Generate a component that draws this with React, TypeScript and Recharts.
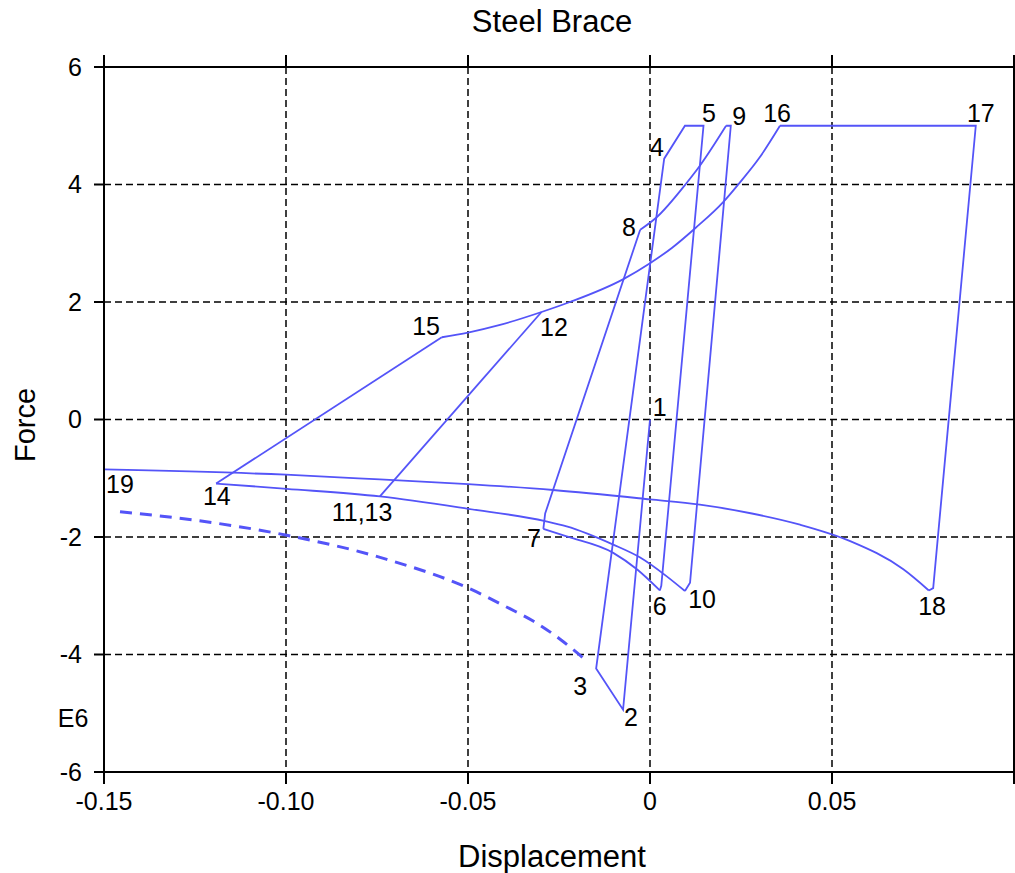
import {
  CartesianGrid,
  ComposedChart,
  Line,
  Scatter,
  XAxis,
  YAxis
} from "recharts";

// hysteresis path (displacement, force in E6)
const firstCycle = [
  { x: 0, y: 0 },
  { x: -0.0074, y: -4.94 },
  { x: -0.0148, y: -4.24 },
  { x: 0.0039, y: 4.44 },
  { x: 0.0096, y: 5 },
  { x: 0.0147, y: 5 },
  { x: 0.0031, y: -2.83 },
  { x: 0.0027, y: -2.91 }
];
const buckle6to7 = [
  { x: -0.0293, y: -1.86 },
  { x: -0.0229, y: -1.99 },
  { x: -0.0101, y: -2.27 },
  { x: -0.0036, y: -2.55 },
  { x: 0.0027, y: -2.91 }
];
const reload7to8 = [
  { x: -0.0293, y: -1.86 },
  { x: -0.0288, y: -1.6 },
  { x: -0.0027, y: 3.23 }
];
const harden8to9 = [
  { x: -0.0027, y: 3.23 },
  { x: 0.0016, y: 3.43 },
  { x: 0.0101, y: 4.03 },
  { x: 0.0137, y: 4.32 },
  { x: 0.0209, y: 5 }
];
const unload9to10 = [
  { x: 0.0209, y: 5 },
  { x: 0.0222, y: 5 },
  { x: 0.011, y: -2.78 },
  { x: 0.0096, y: -2.92 }
];
const buckle10to14 = [
  { x: -0.1192, y: -1.09 },
  { x: -0.0998, y: -1.18 },
  { x: -0.0742, y: -1.31 },
  { x: -0.0499, y: -1.52 },
  { x: -0.0288, y: -1.73 },
  { x: -0.0229, y: -1.82 },
  { x: -0.0101, y: -2.13 },
  { x: -0.0027, y: -2.35 },
  { x: 0.0046, y: -2.67 },
  { x: 0.0096, y: -2.92 }
];
const cycle11to13 = [
  { x: -0.0742, y: -1.31 },
  { x: -0.0298, y: 1.83 }
];
const reload14to15 = [
  { x: -0.1192, y: -1.09 },
  { x: -0.0572, y: 1.4 }
];
const harden15to16 = [
  { x: -0.0572, y: 1.4 },
  { x: -0.05, y: 1.48 },
  { x: -0.0412, y: 1.61 },
  { x: -0.0298, y: 1.83 },
  { x: -0.022, y: 2.0 },
  { x: -0.0073, y: 2.39 },
  { x: 0, y: 2.66 },
  { x: 0.006, y: 2.92 },
  { x: 0.0125, y: 3.26 },
  { x: 0.0201, y: 3.7 },
  { x: 0.0245, y: 4.02 },
  { x: 0.03, y: 4.45 },
  { x: 0.0357, y: 5 }
];
const plateau16to18 = [
  { x: 0.0357, y: 5 },
  { x: 0.0895, y: 5 },
  { x: 0.0778, y: -2.87 },
  { x: 0.0766, y: -2.91 }
];
const buckle18to19 = [
  { x: -0.15, y: -0.85 },
  { x: -0.1, y: -0.94 },
  { x: -0.0742, y: -1.02 },
  { x: -0.05, y: -1.1 },
  { x: -0.0266, y: -1.2 },
  { x: 0, y: -1.36 },
  { x: 0.0137, y: -1.45 },
  { x: 0.028, y: -1.6 },
  { x: 0.0412, y: -1.79 },
  { x: 0.055, y: -2.07 },
  { x: 0.0696, y: -2.55 },
  { x: 0.0766, y: -2.91 }
];
const bucklingEnvelope = [
  { x: -0.1456, y: -1.57 },
  { x: -0.1255, y: -1.71 },
  { x: -0.0998, y: -1.97 },
  { x: -0.0723, y: -2.38 },
  { x: -0.0499, y: -2.87 },
  { x: -0.0385, y: -3.22 },
  { x: -0.0321, y: -3.43 },
  { x: -0.0247, y: -3.74 },
  { x: -0.0174, y: -4.11 }
];

const pointLabels = [
  { label: "1", x: 0.0027, y: 0.22 },
  { label: "2", x: -0.0052, y: -5.07 },
  { label: "3", x: -0.0192, y: -4.53 },
  { label: "4", x: 0.0019, y: 4.63 },
  { label: "5", x: 0.0162, y: 5.22 },
  { label: "6", x: 0.0027, y: -3.17 },
  { label: "7", x: -0.0319, y: -2.01 },
  { label: "8", x: -0.0058, y: 3.27 },
  { label: "9", x: 0.0245, y: 5.17 },
  { label: "10", x: 0.0143, y: -3.06 },
  { label: "11,13", x: -0.0791, y: -1.58 },
  { label: "12", x: -0.0264, y: 1.58 },
  { label: "14", x: -0.119, y: -1.31 },
  { label: "15", x: -0.0615, y: 1.6 },
  { label: "16", x: 0.0349, y: 5.22 },
  { label: "17", x: 0.0909, y: 5.22 },
  { label: "18", x: 0.0775, y: -3.17 },
  { label: "19", x: -0.1456, y: -1.09 }
];

const xTicks = [-0.15, -0.1, -0.05, 0, 0.05, 0.1];
const xTickLabels = ["-0.15", "-0.10", "-0.05", "0", "0.05", ""];
const yTicks = [-6, -4, -2, 0, 2, 4, 6];

const FONT = '"Liberation Sans", Arial, Helvetica, sans-serif';
const BLUE = "#5454f8";

const segments = [
  { data: firstCycle, curve: "linear" },
  { data: buckle6to7, curve: "monotone" },
  { data: reload7to8, curve: "linear" },
  { data: harden8to9, curve: "monotone" },
  { data: unload9to10, curve: "linear" },
  { data: buckle10to14, curve: "monotone" },
  { data: cycle11to13, curve: "linear" },
  { data: reload14to15, curve: "linear" },
  { data: harden15to16, curve: "monotone" },
  { data: plateau16to18, curve: "linear" },
  { data: buckle18to19, curve: "monotone" }
] as const;

const PointLabel = (props: any) => {
  const { cx, cy, payload } = props;
  return (
    <text
      x={cx}
      y={cy}
      textAnchor="middle"
      dominantBaseline="central"
      fontSize={25}
      fontFamily={FONT}
      fill="#000"
    >
      {payload.label}
    </text>
  );
};

const tickStyle = { fontSize: 25, fill: "#000", fontFamily: FONT };

export default function App() {
  return (
    <div style={{ position: "absolute", left: 0, top: 0, width: 1015, height: 873, fontFamily: FONT, background: "#fff" }}>
      <ComposedChart
        width={1015}
        height={873}
        margin={{ top: 47, right: 0, bottom: 41, left: 44 }}
      >
        <CartesianGrid stroke="#000" strokeDasharray="7 4" strokeWidth={1.5} />
        <XAxis
          type="number"
          dataKey="x"
          domain={[-0.15, 0.1]}
          ticks={xTicks}
          allowDataOverflow
          height={60}
          tickSize={12}
          tickMargin={8}
          stroke="#000"
          strokeWidth={2}
          tick={tickStyle}
          tickFormatter={(v: number) => xTickLabels[xTicks.indexOf(v)] ?? ""}
        />
        <XAxis
          xAxisId="top"
          orientation="top"
          type="number"
          dataKey="x"
          domain={[-0.15, 0.1]}
          ticks={xTicks}
          allowDataOverflow
          height={20}
          tickSize={12}
          stroke="#000"
          strokeWidth={2}
          tickFormatter={() => ""}
        />
        <YAxis
          type="number"
          dataKey="y"
          domain={[-6, 6]}
          ticks={yTicks}
          allowDataOverflow
          width={60}
          tickSize={10}
          tickMargin={12}
          stroke="#000"
          strokeWidth={2}
          tick={tickStyle}
        />
        <YAxis
          yAxisId="right"
          orientation="right"
          type="number"
          domain={[-6, 6]}
          ticks={yTicks}
          width={1}
          tickSize={10}
          stroke="#000"
          strokeWidth={2}
          tickFormatter={() => ""}
        />
        {segments.map((s, i) => (
          <Line
            key={i}
            data={s.data as any}
            dataKey="y"
            type={s.curve}
            stroke={BLUE}
            strokeWidth={1.8}
            dot={false}
            activeDot={false}
            isAnimationActive={false}
          />
        ))}
        <Line
          data={bucklingEnvelope}
          dataKey="y"
          type="monotone"
          stroke={BLUE}
          strokeWidth={3}
          strokeDasharray="12 8"
          dot={false}
          activeDot={false}
          isAnimationActive={false}
        />
        <Scatter
          data={pointLabels}
          dataKey="y"
          shape={PointLabel}
          isAnimationActive={false}
        />
      </ComposedChart>
      <div style={{ position: "absolute", left: 552, top: 22, transform: "translate(-50%, -50%)", fontSize: 31, whiteSpace: "nowrap" }}>
        Steel Brace
      </div>
      <div style={{ position: "absolute", left: 552, top: 857, transform: "translate(-50%, -50%)", fontSize: 31, whiteSpace: "nowrap" }}>
        Displacement
      </div>
      <div style={{ position: "absolute", left: 25, top: 425, transform: "translate(-50%, -50%) rotate(-90deg)", fontSize: 29, whiteSpace: "nowrap" }}>
        Force
      </div>
      <div style={{ position: "absolute", left: 73, top: 718, transform: "translate(-50%, -50%)", fontSize: 25, whiteSpace: "nowrap" }}>
        E6
      </div>
    </div>
  );
}
